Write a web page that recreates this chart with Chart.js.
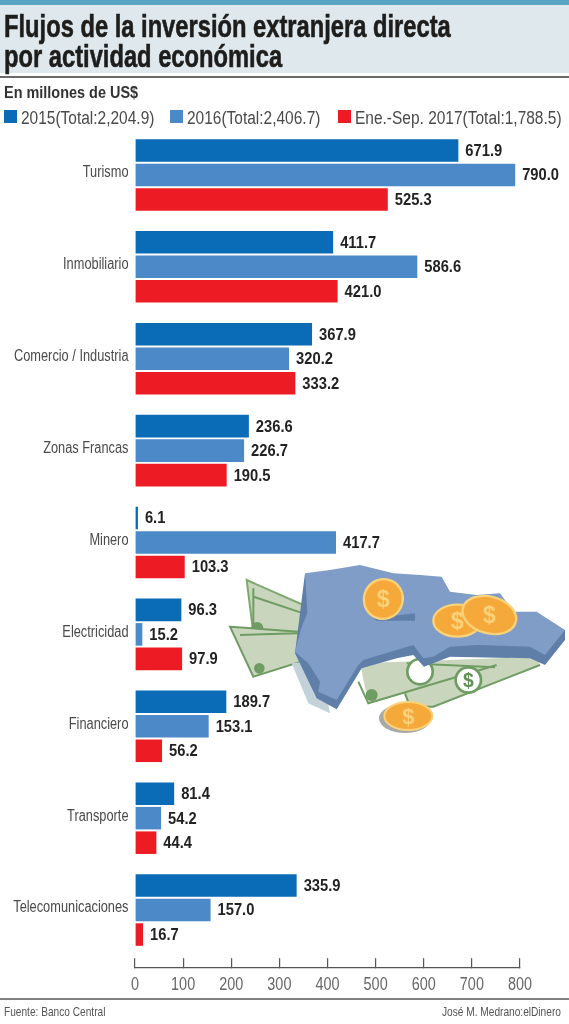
<!DOCTYPE html>
<html lang="es">
<head>
<meta charset="utf-8">
<title>Flujos de la inversión extranjera directa</title>
<script src="https://cdn.jsdelivr.net/npm/chart.js@4"></script>
<style>
  html, body { margin: 0; padding: 0; background: #fff; }
  body { position: relative; width: 569px; height: 1024px; overflow: hidden; font-family: "Liberation Sans", sans-serif; color: #222; }
  #chart { position: absolute; left: 0; top: 0; }
  .abs { position: absolute; white-space: nowrap; }
  .narrow { transform-origin: left center; }
  #band { left: 0; top: 0; width: 569px; height: 5px; background: #5aa4c3; }
  #panel { left: 0; top: 5px; width: 569px; height: 68px; background: #dfe8ed; }
  #rule1 { left: 0; top: 76px; width: 569px; height: 2px; background: #6a6a6a; }
  #rule2 { left: 0; top: 998px; width: 569px; height: 2px; background: #808080; }
  #title { left: 4px; top: 12px; font-size: 31px; line-height: 29.5px; font-weight: bold; color: #1d1d1b; -webkit-text-stroke: .6px #1d1d1b; transform: scaleX(.765); }
  #unit { left: 4px; top: 83px; font-size: 17px; font-weight: bold; color: #333; transform: scaleX(.85); }
  .leg-box { position: absolute; top: 110px; width: 13px; height: 13px; }
  .leg-text { top: 107px; font-size: 18px; line-height: 22px; color: #4a4a4a; }
  .foot { top: 1004px; font-size: 13px; color: #555; transform: scaleX(.78); }
  #art { position: absolute; left: 0; top: 0; }
</style>
</head>
<body>
<canvas id="chart" width="569" height="1024"></canvas>

<div class="abs" id="band"></div>
<div class="abs" id="panel"></div>
<div class="abs" id="rule1"></div>
<div class="abs" id="rule2"></div>
<div class="abs narrow" id="title">Flujos de la inversión extranjera directa<br>por actividad económica</div>
<div class="abs narrow" id="unit">En millones de US$</div>
<div id="legend"></div>
<div class="abs foot narrow" style="left:4px">Fuente: Banco Central</div>
<div class="abs foot narrow" style="left:442px">José M. Medrano:elDinero</div>

<!-- illustration, drawn in 3x zoom coordinates -->
<svg id="art" width="569" height="1024">
  <g transform="translate(220 550) scale(.33333)">
    <path d="M80 90 L250 165 L270 250 L100 250 Z" fill="#c9d6bd" stroke="#7da86f" stroke-width="6"/>
    <path d="M100 115 L100 240 M100 140 L250 190" fill="none" stroke="#6f9c63" stroke-width="6"/>
    <circle cx="112" cy="234" r="18" fill="#6f9c63"/>
    <path d="M30 230 L235 245 L290 320 L100 380 Z" fill="#c9d6bd" stroke="#6f9c63" stroke-width="6"/>
    <path d="M60 255 L235 250" fill="none" stroke="#6f9c63" stroke-width="6"/>
    <circle cx="118" cy="355" r="16" fill="#6f9c63"/>
    <path d="M215 340 L300 330 L330 490 L265 460 Z" fill="#c2d2d8"/>
    <path d="M420 340 L950 320 L960 345 L640 470 L570 470 L555 430 L445 460 Z" fill="#c9d6bd"/>
    <path d="M415 395 L445 460 L830 345" fill="none" stroke="#6f9c63" stroke-width="6"/>
    <path d="M555 430 L570 470 L640 470 L960 345" fill="none" stroke="#6f9c63" stroke-width="6"/>
    <path d="M560 340 L825 352" fill="none" stroke="#6f9c63" stroke-width="6"/>
    <circle cx="455" cy="435" r="18" fill="#6f9c63"/>
    <circle cx="600" cy="365" r="38" fill="#fff" stroke="#6f9c63" stroke-width="8"/>
    <circle cx="745" cy="390" r="38" fill="#fff" stroke="#6f9c63" stroke-width="8"/>
    <text x="745" y="410" font-size="58" font-weight="bold" fill="#5f8f55" text-anchor="middle">$</text>
    <path d="M255 70 L225 310 L290 445 L350 478 L425 355 L530 325 L580 315 L612 350 L690 320 L930 325 L975 345 L1035 270 L1035 240 Z" fill="#5f7ea8"/>
    <path d="M255 70 L330 60 L420 45 L520 70 L600 75 L665 80 L690 125 L770 135 L840 130 L880 185 L950 185 L1035 240 L975 315 L930 290 L770 285 L690 290 L640 320 L610 325 L580 285 L530 300 L430 330 L415 345 L350 450 L295 425 L300 395 L265 340 L225 305 L245 230 L262 190 Z" fill="#7f9dc6"/>
    <path d="M460 205 L585 190 L585 212 L470 212 Z" fill="#5f7ea8"/>
    <ellipse cx="490" cy="147" rx="58" ry="60" fill="#f5a93a" stroke="#fbd27a" stroke-width="7" transform="rotate(25 490 147)"/>
    <text x="490" y="172" font-size="70" font-weight="bold" fill="#fbd27a" text-anchor="middle">$</text>
    <ellipse cx="712" cy="212" rx="72" ry="48" fill="#f5a93a" stroke="#fbd27a" stroke-width="7"/>
    <text x="712" y="238" font-size="70" font-weight="bold" fill="#fbd27a" text-anchor="middle">$</text>
    <ellipse cx="808" cy="195" rx="82" ry="55" fill="#f5a93a" stroke="#fbd27a" stroke-width="7" transform="rotate(15 808 195)"/>
    <text x="808" y="220" font-size="70" font-weight="bold" fill="#fbd27a" text-anchor="middle">$</text>
    <ellipse cx="555" cy="505" rx="78" ry="44" fill="#a9a9a9"/>
    <ellipse cx="565" cy="498" rx="72" ry="42" fill="#f5a93a" stroke="#fbd27a" stroke-width="6"/>
    <text x="565" y="522" font-size="66" font-weight="bold" fill="#fbd27a" text-anchor="middle">$</text>
  </g>
</svg>

<script>
const categories = ['Turismo', 'Inmobiliario', 'Comercio / Industria', 'Zonas Francas', 'Minero', 'Electricidad', 'Financiero', 'Transporte', 'Telecomunicaciones'];
const values2015 = [671.9, 411.7, 367.9, 236.6, 6.1, 96.3, 189.7, 81.4, 335.9];
const values2016 = [790.0, 586.6, 320.2, 226.7, 417.7, 15.2, 153.1, 54.2, 157.0];
const values2017 = [525.3, 421.0, 333.2, 190.5, 103.3, 97.9, 56.2, 44.4, 16.7];
const seriesNames = ['2015(Total:2,204.9)', '2016(Total:2,406.7)', 'Ene.-Sep. 2017(Total:1,788.5)'];
const seriesColors = ['#0a6bb6', '#4b89c9', '#ed1c24'];
const legendLeft = [4, 170, 338];
const FONT = '"Liberation Sans", sans-serif';

// --- Legend ---
document.getElementById('legend').innerHTML = seriesNames.map((name, i) =>
  `<div class="leg-box" style="left:${legendLeft[i]}px;background:${seriesColors[i]}"></div>` +
  `<div class="abs leg-text narrow" style="left:${legendLeft[i] + 17}px;transform:scaleX(.86)">${name}</div>`
).join('');

// no condensed face is installed, so squeeze the canvas text by hand
function narrowText(ctx, text, x, y, align, squeeze) {
  ctx.save();
  ctx.translate(x, y);
  ctx.scale(squeeze, 1);
  ctx.textAlign = align;
  ctx.textBaseline = 'middle';
  ctx.fillText(text, 0, 0);
  ctx.restore();
}

// --- Labels ---
const chartLabels = {
  id: 'chartLabels',
  afterDatasetsDraw(chart) {
    const ctx = chart.ctx;
    const { x, y } = chart.scales;
    ctx.save();

    ctx.font = 'bold 16px ' + FONT;
    ctx.fillStyle = '#222';
    chart.data.datasets.forEach((ds, i) => {
      chart.getDatasetMeta(i).data.forEach((bar, j) => {
        narrowText(ctx, ds.data[j].toFixed(1), bar.x + 7, bar.y + 1, 'left', 0.92);
      });
    });

    ctx.font = '16px ' + FONT;
    ctx.fillStyle = '#4a4a4a';
    categories.forEach((name, i) => {
      narrowText(ctx, name, 128.5, y.getPixelForValue(i) - 2, 'right', 0.8);
    });

    ctx.font = '18px ' + FONT;
    ctx.fillStyle = '#666';
    x.ticks.forEach(t => {
      narrowText(ctx, String(t.value), x.getPixelForValue(t.value), 985, 'center', 0.8);
    });
    ctx.restore();
  }
};

new Chart(document.getElementById('chart'), {
  type: 'bar',
  data: {
    labels: categories,
    datasets: [values2015, values2016, values2017].map((data, i) => ({
      label: seriesNames[i],
      data,
      backgroundColor: seriesColors[i],
      categoryPercentage: 0.8,
      barPercentage: 0.92
    }))
  },
  options: {
    indexAxis: 'y',
    responsive: false,
    animation: false,
    layout: { padding: { top: 129, bottom: 68, right: 49, left: 0 } },
    plugins: { legend: { display: false }, tooltip: { enabled: false } },
    scales: {
      x: {
        min: 0,
        max: 800,
        position: { y: 8.626 },
        grid: { drawOnChartArea: false, tickLength: -10, color: '#555', lineWidth: 1.2 },
        border: { color: '#555', width: 1.2 },
        ticks: { stepSize: 100, display: false }
      },
      y: {
        afterFit: scale => { scale.width = 135; },
        grid: { display: false },
        border: { display: false },
        ticks: { display: false, autoSkip: false }
      }
    }
  },
  plugins: [chartLabels]
});
</script>
</body>
</html>
